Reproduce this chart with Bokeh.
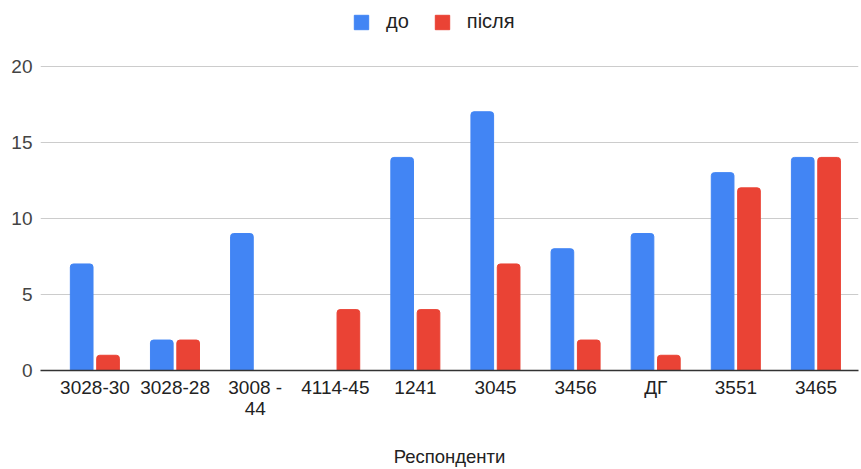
from bokeh.plotting import figure
from bokeh.models import FixedTicker, Range1d, Legend, LegendItem, ColumnDataSource
from bokeh.transform import dodge
from bokeh.embed import file_html
from bokeh.resources import INLINE

categories = ["3028-30", "3028-28", "3008 -\n44", "4114-45", "1241", "3045", "3456", "ДГ", "3551", "3465"]
before = [7, 2, 9, 0, 14, 17, 8, 9, 13, 14]
after = [1, 2, 0, 4, 4, 7, 2, 1, 12, 14]
y_ticks = [0, 5, 10, 15, 20]
x_title = "Респонденти"

xs = list(range(len(categories)))
src = ColumnDataSource(dict(x=xs, before=before, after=after))

p = figure(width=861, height=469, output_backend="svg", toolbar_location=None,
           x_range=Range1d(-0.68, 9.53), y_range=Range1d(0, 24.31),
           min_border_left=40, min_border_right=3, min_border_top=0, min_border_bottom=97)
p.outline_line_color = None
p.background_fill_color = "white"

FONT = "Liberation Sans"
FS = "19px"
b = p.vbar(x=dodge("x", -0.166, range=p.x_range), top="before", width=0.283, source=src,
           color="#4285F4", border_radius=(3, 3, 0, 0))
a = p.vbar(x=dodge("x", 0.163, range=p.x_range), top="after", width=0.283, source=src,
           color="#EA4335", border_radius=(3, 3, 0, 0))

p.xgrid.visible = False
p.ygrid.grid_line_color = "#cccccc"
p.ygrid.ticker = FixedTicker(ticks=y_ticks)

p.yaxis.ticker = FixedTicker(ticks=y_ticks)
p.yaxis.axis_line_color = None
p.yaxis.major_tick_line_color = None
p.yaxis.minor_tick_line_color = None
p.yaxis.major_tick_out = 0
p.yaxis.major_label_text_font = FONT
p.yaxis.major_label_text_font_size = FS
p.yaxis.major_label_text_color = "#444444"
p.yaxis.major_label_standoff = 8

p.xaxis.ticker = FixedTicker(ticks=xs)
p.xaxis.major_label_overrides = {i: c for i, c in enumerate(categories)}
p.xaxis.axis_line_color = "#333333"
p.xaxis.axis_line_width = 1.5
p.xaxis.major_tick_line_color = None
p.xaxis.minor_tick_line_color = None
p.xaxis.major_tick_out = 0
p.xaxis.major_label_text_font = FONT
p.xaxis.major_label_text_font_size = FS
p.xaxis.major_label_text_line_height = 1.0
p.xaxis.major_label_text_color = "#222222"
p.xaxis.major_label_standoff = 6
p.xaxis.axis_label = x_title
p.xaxis.axis_label_text_font = FONT
p.xaxis.axis_label_text_font_style = "normal"
p.xaxis.axis_label_text_font_size = "18.5px"
p.xaxis.axis_label_text_color = "#222222"
p.xaxis.axis_label_standoff = 24

legend = Legend(items=[LegendItem(label="до", renderers=[b]), LegendItem(label="після", renderers=[a])],
                orientation="horizontal", location=(312, 337),
                label_text_font=FONT, label_text_font_size="20px", label_text_color="#222222",
                glyph_width=18, glyph_height=18, spacing=24, padding=0, margin=0,
                label_standoff=16, border_line_color=None, background_fill_alpha=0)
p.add_layout(legend, "center")

open("out.html", "w").write(file_html(p, INLINE))
